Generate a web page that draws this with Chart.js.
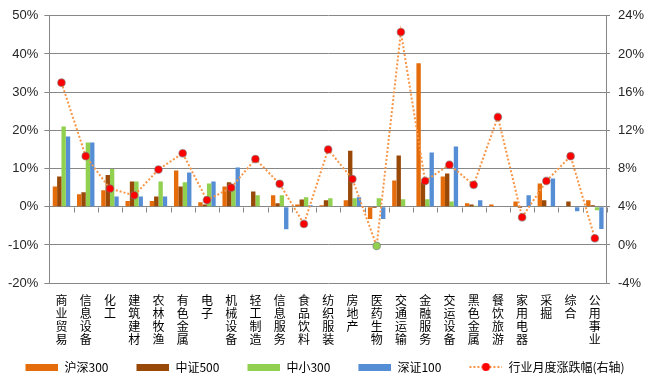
<!DOCTYPE html>
<html>
<head>
<meta charset="utf-8">
<script src="https://cdn.jsdelivr.net/npm/chart.js@4/dist/chart.umd.min.js"></script>
<style>
  html, body { margin: 0; padding: 0; background: #fff; }
  #wrap { width: 652px; height: 377px; }
</style>
</head>
<body>
<div id="wrap"><canvas id="industryChart"></canvas></div>
<script>
// data (%)
let categories = ['商业贸易', '信息设备', '化工', '建筑建材', '农林牧渔', '有色金属', '电子', '机械设备',
    '轻工制造', '信息服务', '食品饮料', '纺织服装', '房地产', '医药生物', '交通运输', '金融服务',
    '交运设备', '黑色金属', '餐饮旅游', '家用电器', '采掘', '综合', '公用事业'];
let hs300 = [5.3, 3.3, 4.3, 1.5, 1.5, 9.5, 1.2, 5.3, 0, 3.0, 0.6, 0.4, 1.7, -3.2, 6.9, 37.6, 7.9, 0.9, 0.6, 1.4, 6.1, 0, 1.7];
let zz500 = [7.9, 3.8, 8.3, 6.6, 2.7, 5.3, 0.6, 6.4, 4.0, 0.9, 1.9, 1.7, 14.7, -0.3, 13.4, 6.4, 8.7, 0.6, 0, -0.3, 1.7, 1.4, 0.4];
let zx300 = [21.0, 16.8, 9.9, 6.6, 6.6, 6.4, 6.1, 4.6, 3.0, 3.0, 2.5, 2.2, 2.2, 2.2, 2.0, 2.0, 1.4, 0.3, 0, 0, 0, 0, -0.9];
let sz100 = [18.4, 16.8, 2.7, 2.7, 2.7, 9.0, 6.6, 10.3, 0, -5.9, 0.4, 0, 2.5, -3.2, 0, 14.2, 15.8, 1.7, 0, 3.0, 7.4, -1.2, -5.8];
let monthChange = [17.0, 9.3, 5.9, 5.2, 7.9, 9.6, 4.7, 6.0, 9.0, 6.4, 2.2, 10.0, 6.9, -0.1, 22.3, 6.7, 8.4, 6.3, 13.4, 2.9, 6.7, 9.3, 0.7];
let leftTicks = [-20, -10, 0, 10, 20, 30, 40, 50];
let rightTicks = [-4, 0, 4, 8, 12, 16, 20, 24];

let colOrange = '#E46C0A', colBrown = '#984807', colGreen = '#92D050', colBlue = '#558ED5';
let lineColor = '#F79646', dotColor = '#FF0000';
let gridColor = '#878787';

// the one green dot in the line (医药生物)
let dotFill = monthChange.map((v, i) => categories[i] === '医药生物' ? colGreen : dotColor);

// legend swatches: empty room on the left works as the gap between items
let swPad = 24, swW = swPad + 33;
function swatch(color) {
    let c = document.createElement('canvas');
    c.width = swW; c.height = 7;
    let g = c.getContext('2d');
    g.fillStyle = color;
    g.fillRect(swPad, 0, 33, 7);
    return c;
}
function lineSwatch() {
    let c = document.createElement('canvas');
    c.width = swW; c.height = 10;
    let g = c.getContext('2d');
    g.strokeStyle = lineColor;
    g.lineWidth = 2;
    g.setLineDash([2, 2]);
    g.beginPath(); g.moveTo(swPad, 5); g.lineTo(swW, 5); g.stroke();
    g.fillStyle = dotColor;
    g.beginPath(); g.arc(swPad + 16.5, 5, 4, 0, Math.PI * 2); g.fill();
    return c;
}

// small tick marks on the zero line between categories
let zeroTicks = {
    id: 'zeroTicks',
    afterDraw(chart) {
        let xs = chart.scales.x, ys = chart.scales.y;
        let y0 = Math.round(ys.getPixelForValue(0)) + 0.5;
        let n = categories.length;
        let step = (xs.right - xs.left) / n;
        let ctx = chart.ctx;
        ctx.save();
        ctx.strokeStyle = gridColor;
        ctx.lineWidth = 1;
        ctx.beginPath();
        for (let i = 1; i <= n; i++) {
            let x = Math.round(xs.left + i * step) + 0.5;
            ctx.moveTo(x, y0);
            ctx.lineTo(x, y0 + 5);
        }
        ctx.stroke();
        ctx.restore();
    }
};

// the swatch padding pushes the legend right, pull it back
let legendShift = {
    id: 'legendShift',
    afterLayout(chart) {
        chart.legend.left -= 14;
        chart.legend.right -= 14;
    }
};

let ctxInd = document.getElementById('industryChart').getContext('2d');
let industryChart = new Chart(ctxInd, {
    data: {
        labels: categories.map(c => c.split('')),
        datasets: [
            { type: 'bar', label: '沪深300', data: hs300, backgroundColor: colOrange, order: 1, yAxisID: 'y' },
            { type: 'bar', label: '中证500', data: zz500, backgroundColor: colBrown, order: 1, yAxisID: 'y' },
            { type: 'bar', label: '中小300', data: zx300, backgroundColor: colGreen, order: 1, yAxisID: 'y' },
            { type: 'bar', label: '深证100', data: sz100, backgroundColor: colBlue, order: 1, yAxisID: 'y' },
            {
                type: 'line', label: '行业月度涨跌幅(右轴)', data: monthChange, yAxisID: 'y1', order: 0,
                borderColor: lineColor, borderWidth: 2, borderDash: [2, 2], tension: 0,
                pointRadius: 3.8, pointBackgroundColor: dotFill,
                pointBorderColor: 'rgba(120,120,120,0.55)', pointBorderWidth: 1.2
            }
        ]
    },
    plugins: [zeroTicks, legendShift],
    options: {
        responsive: true,
        maintainAspectRatio: false,
        animation: false,
        datasets: {
            bar: { barPercentage: 1.0, categoryPercentage: 0.72 }
        },
        layout: { padding: { top: 6, left: 2, right: 0, bottom: -6 } },
        scales: {
            x: {
                grid: { display: false, drawTicks: false },
                border: { display: false },
                ticks: {
                    autoSkip: false, maxRotation: 0, padding: 11,
                    color: '#000',
                    font: { family: '"Noto Sans CJK SC"', size: 12, lineHeight: 1.08 }
                }
            },
            y: {
                position: 'left',
                min: leftTicks[0], max: leftTicks[leftTicks.length - 1],
                afterBuildTicks: s => { s.ticks = leftTicks.map(v => ({ value: v })); },
                grid: { color: gridColor, tickLength: 5 },
                border: { color: gridColor },
                ticks: {
                    padding: 6, color: '#262626',
                    font: { family: '"Liberation Sans"', size: 13 },
                    callback: v => v + '%'
                }
            },
            y1: {
                position: 'right',
                min: rightTicks[0], max: rightTicks[rightTicks.length - 1],
                afterBuildTicks: s => { s.ticks = rightTicks.map(v => ({ value: v })); },
                grid: { drawOnChartArea: false, color: gridColor, tickLength: 3 },
                border: { color: gridColor },
                ticks: {
                    padding: 8, color: '#262626',
                    font: { family: '"Liberation Sans"', size: 13 },
                    callback: v => v + '%'
                }
            }
        },
        plugins: {
            tooltip: { enabled: false },
            legend: {
                display: true,
                position: 'bottom',
                labels: {
                    usePointStyle: true,
                    pointStyleWidth: swW,
                    padding: 4,
                    boxHeight: 12,
                    color: '#000',
                    font: { family: '"Noto Sans CJK SC"', size: 12 },
                    generateLabels: chart => chart.data.datasets.map((ds, i) => ({
                        text: ds.label,
                        pointStyle: i < 4 ? swatch(ds.backgroundColor) : lineSwatch(),
                        fillStyle: 'transparent',
                        strokeStyle: 'transparent',
                        lineWidth: 0,
                        hidden: false,
                        datasetIndex: i,
                        fontColor: '#000'
                    }))
                }
            }
        }
    }
});
</script>
</body>
</html>
